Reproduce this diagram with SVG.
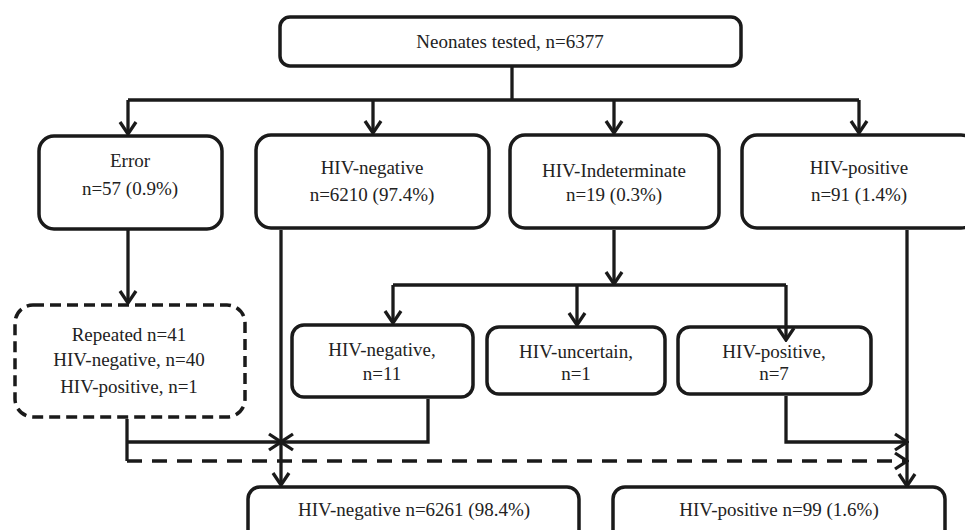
<svg xmlns="http://www.w3.org/2000/svg" width="965" height="530" viewBox="0 0 965 530">
<defs>
<style>
.box{fill:#fff;stroke:#1a1a1a;stroke-width:3.5}
.dbox{fill:#fff;stroke:#1a1a1a;stroke-width:3.5;stroke-dasharray:11 6}
.ln{fill:none;stroke:#1a1a1a;stroke-width:3.3}
.dl{fill:none;stroke:#1a1a1a;stroke-width:3.3;stroke-dasharray:15 10}
.arr{marker-end:url(#ah)}
text{font-family:"Liberation Serif","Times New Roman",serif;font-size:19px;fill:#222;text-anchor:middle}
</style>
<marker id="ah" viewBox="-14 -10 16 20" markerWidth="16" markerHeight="20" refX="0" refY="0" orient="auto" markerUnits="userSpaceOnUse">
<path d="M-12,-8 L0,0 L-12,8" fill="none" stroke="#1a1a1a" stroke-width="3.3"/>
</marker>
</defs>
<rect width="965" height="530" fill="#fff"/>
<g id="n-top"><rect class="box" x="280" y="17" width="461" height="49" rx="10"/><text x="510" y="48">Neonates tested, n=6377</text></g>
<g id="n-error"><rect class="box" x="39" y="136" width="183" height="93" rx="15"/><text x="130" y="167">Error</text><text x="130" y="195">n=57 (0.9%)</text></g>
<g id="n-neg"><rect class="box" x="256" y="135" width="233" height="93" rx="15"/><text x="372" y="174">HIV-negative</text><text x="372" y="201">n=6210 (97.4%)</text></g>
<g id="n-ind"><rect class="box" x="510" y="135" width="209" height="93" rx="15"/><text x="614" y="177">HIV-Indeterminate</text><text x="614" y="201">n=19 (0.3%)</text></g>
<g id="n-pos"><rect class="box" x="742" y="135" width="234" height="93" rx="15"/><text x="859" y="174">HIV-positive</text><text x="859" y="201">n=91 (1.4%)</text></g>
<g id="n-rep"><rect class="dbox" x="15" y="305" width="230" height="112" rx="18"/><text x="129" y="341">Repeated n=41</text><text x="129" y="366">HIV-negative, n=40</text><text x="129" y="393">HIV-positive, n=1</text></g>
<g id="n-neg11"><rect class="box" x="292" y="325" width="181" height="72" rx="12"/><text x="382" y="356">HIV-negative,</text><text x="382" y="380">n=11</text></g>
<g id="n-unc"><rect class="box" x="487" y="327" width="178" height="67" rx="12"/><text x="576" y="358">HIV-uncertain,</text><text x="576" y="380">n=1</text></g>
<g id="n-pos7"><rect class="box" x="678" y="327" width="193" height="67" rx="12"/><text x="774" y="358">HIV-positive,</text><text x="774" y="380">n=7</text></g>
<g id="n-negf"><rect class="box" x="248" y="487" width="331" height="60" rx="12"/><text x="414" y="516">HIV-negative n=6261 (98.4%)</text></g>
<g id="n-posf"><rect class="box" x="613" y="487" width="332" height="60" rx="12"/><text x="779" y="516">HIV-positive n=99 (1.6%)</text></g>
<g id="connectors">
<line class="ln" x1="512" y1="66" x2="512" y2="100"/>
<line class="ln" x1="128" y1="100" x2="859" y2="100"/>
<line class="ln arr" x1="128" y1="100" x2="128" y2="134"/>
<line class="ln arr" x1="373" y1="100" x2="373" y2="133"/>
<line class="ln arr" x1="614" y1="100" x2="614" y2="133"/>
<line class="ln arr" x1="859" y1="100" x2="859" y2="133"/>
<line class="ln arr" x1="128" y1="230" x2="128" y2="303"/>
<line class="ln arr" x1="281" y1="230" x2="281" y2="485"/>
<line class="ln arr" x1="614" y1="230" x2="614" y2="284"/>
<line class="ln" x1="393" y1="285" x2="786" y2="285"/>
<line class="ln arr" x1="393" y1="285" x2="393" y2="323"/>
<line class="ln arr" x1="577" y1="285" x2="577" y2="325"/>
<line class="ln arr" x1="786" y1="285" x2="786" y2="340"/>
<polyline class="ln" points="127,419 127,461"/>
<line class="ln arr" x1="127" y1="442" x2="281" y2="442"/>
<polyline class="ln arr" points="428,399 428,442 281,442"/>
<polyline class="ln arr" points="786,396 786,442 907,442"/>
<line class="dl arr" x1="127" y1="461" x2="907" y2="461"/>
<line class="ln arr" x1="907" y1="230" x2="907" y2="486"/>
</g>
</svg>
